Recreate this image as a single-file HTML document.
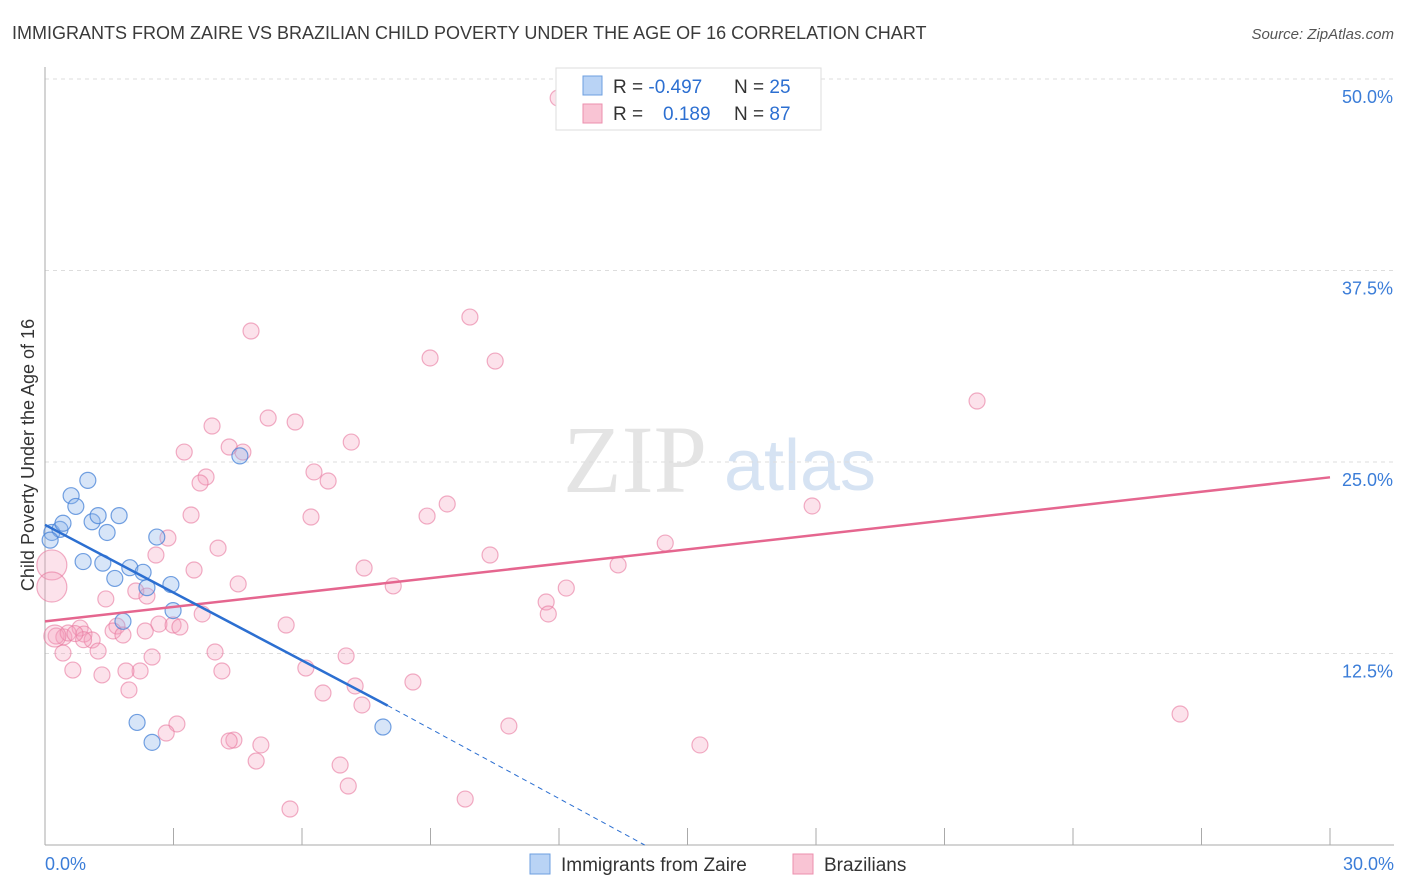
<!DOCTYPE html>
<html><head><meta charset="utf-8"><style>
body{margin:0;background:#fff;font-family:"Liberation Sans",sans-serif;}
svg{display:block}
</style></head><body>
<svg id="chart" width="1406" height="892" xmlns="http://www.w3.org/2000/svg">
<text x="12" y="39" font-size="18" fill="#3a3a3a">IMMIGRANTS FROM ZAIRE VS BRAZILIAN CHILD POVERTY UNDER THE AGE OF 16 CORRELATION CHART</text>
<text x="1394" y="39" font-size="15" fill="#555" font-style="italic" text-anchor="end">Source: ZipAtlas.com</text>
<text x="635" y="492" font-size="96" fill="#e4e4e4" font-family="Liberation Serif,serif" text-anchor="middle">ZIP</text>
<text x="800" y="490" font-size="72" fill="#d6e3f3" text-anchor="middle">atlas</text>
<text transform="translate(34,455) rotate(-90)" font-size="18" fill="#333" text-anchor="middle">Child Poverty Under the Age of 16</text>
<g id="grid"></g><g id="marks"></g><g id="lines"></g>
<g>
<rect x="556" y="68" width="265" height="62" fill="#fff" stroke="#ddd"/>
<rect x="583" y="76" width="19" height="19" fill="#b9d3f5" stroke="#6d9fe0"/>
<rect x="583" y="104" width="19" height="19" fill="#f9c4d4" stroke="#ec8fae"/>
<text x="613" y="93" font-size="19" fill="#333">R = <tspan fill="#2c6fd1">-0.497</tspan><tspan x="734">N = </tspan><tspan fill="#2c6fd1">25</tspan></text>
<text x="613" y="120" font-size="19" fill="#333">R = <tspan x="663" fill="#2c6fd1">0.189</tspan><tspan x="734">N = </tspan><tspan fill="#2c6fd1">87</tspan></text>
</g>
<g>
<rect x="530" y="854" width="20" height="20" fill="#b9d3f5" stroke="#6d9fe0"/>
<text x="561" y="871" font-size="19" fill="#333">Immigrants from Zaire</text>
<rect x="793" y="854" width="20" height="20" fill="#f9c4d4" stroke="#ec8fae"/>
<text x="824" y="871" font-size="19" fill="#333">Brazilians</text>
</g>
</svg>
<script>
const yTicks=[12.5,25,37.5,50];
const xTickLabels=["0.0%","30.0%"];
const zaireX=[0.16,0.35,0.42,0.61,0.72,1.00,1.10,1.24,1.73,1.45,0.89,1.35,1.63,1.98,2.29,2.38,2.61,2.94,2.99,1.82,2.15,2.50,4.55,7.89,0.12];
const zaireY=[20.4,20.6,21.0,22.8,22.1,23.8,21.1,21.5,21.5,20.4,18.5,18.4,17.4,18.1,17.8,16.8,20.1,17.0,15.3,14.6,8.0,6.7,25.4,7.7,19.9];
const brX=[11.98,4.81,9.92,8.99,10.51,21.76,3.90,5.21,5.84,3.25,4.30,4.62,7.15,6.28,6.61,3.76,3.62,9.39,8.92,17.91,3.41,6.21,2.87,2.59,4.04,10.39,14.48,13.38,7.45,3.48,4.51,8.13,12.17,11.70,11.75,1.42,2.12,2.38,3.67,2.66,2.99,3.15,5.63,2.34,1.68,1.59,1.82,0.82,0.91,1.10,0.44,0.26,0.54,1.24,0.42,2.50,3.97,7.03,6.09,4.13,2.22,1.89,0.65,1.33,1.96,7.24,8.59,6.49,7.40,10.83,3.08,2.83,4.41,4.30,5.04,15.29,26.50,4.93,6.89,7.08,5.72,9.81,0.16,0.16,0.23,0.90,0.70];
const brY=[48.76,33.55,34.46,31.79,31.59,28.98,27.35,27.87,27.61,25.65,25.98,25.65,26.30,24.35,23.76,24.02,23.63,22.26,21.47,22.13,21.54,21.41,20.04,18.93,19.38,18.93,19.71,18.28,18.08,17.95,17.04,16.91,16.77,15.86,15.08,16.06,16.58,16.25,15.08,14.42,14.36,14.23,14.36,13.97,14.29,13.97,13.71,14.16,13.77,13.38,13.58,13.64,13.84,12.66,12.53,12.27,12.60,12.34,11.55,11.36,11.36,11.36,11.42,11.10,10.12,10.38,10.64,9.92,9.14,7.77,7.90,7.31,6.85,6.79,6.53,6.53,8.55,5.48,5.22,3.85,2.35,3.00,18.28,16.84,13.64,13.40,13.80];
const brBig=[82,83];
const brMid=[84];
const zaireTrend=[[0,20.9],[8.0,9.1]];
const zaireDash=[[8.0,9.1],[14.0,0]];
const brTrend=[[0,14.6],[30,24.0]];
const X=v=>45+v/30*1285, Y=v=>845-v/50*766;
const NS="http://www.w3.org/2000/svg";
function mk(t,a,p){const e=document.createElementNS(NS,t);for(const k in a)e.setAttribute(k,a[k]);p.appendChild(e);return e;}
const grid=document.getElementById('grid'),marks=document.getElementById('marks'),lines=document.getElementById('lines');
yTicks.forEach(t=>{
 const l=mk('line',{x1:45,x2:1394,y1:Y(t),y2:Y(t),stroke:'#ddd','stroke-dasharray':'4,4'},grid);
 
 
 const tx=mk('text',{x:1393,y:Y(t)+24,'font-size':18,fill:'#3b7dd8','text-anchor':'end'},grid);
 tx.textContent=t.toFixed(1)+'%';
 
 
});
const ax=mk('line',{x1:45,x2:45,y1:67,y2:845,stroke:'#aaa'},grid);


const bx=mk('line',{x1:45,x2:1394,y1:845,y2:845,stroke:'#aaa'},grid);


for(let i=1;i<=10;i++){const tk=mk('line',{x1:X(i*3),x2:X(i*3),y1:828,y2:845,stroke:'#aaa'},grid);
 
 }
[[0,'start',45],[30,'end',1394]].forEach((d,i)=>{const t=mk('text',{x:d[2],y:870,'font-size':18,fill:'#3b7dd8','text-anchor':d[1]},grid);t.textContent=xTickLabels[i];
 
 });
brX.forEach((v,i)=>{const r=brBig.includes(i)?15:(brMid.includes(i)?11:8);
 const c=mk('circle',{cx:X(v),cy:Y(brY[i]),r:r,fill:'rgba(245,160,188,0.3)',stroke:'rgba(232,120,158,0.6)','stroke-width':1.2},marks);
 
 });
zaireX.forEach((v,i)=>{const c=mk('circle',{cx:X(v),cy:Y(zaireY[i]),r:8,fill:'rgba(140,180,235,0.35)',stroke:'rgba(70,130,215,0.75)','stroke-width':1.2},marks);
 
 });
const l1=mk('line',{x1:X(brTrend[0][0]),y1:Y(brTrend[0][1]),x2:X(brTrend[1][0]),y2:Y(brTrend[1][1]),stroke:'#e5668f','stroke-width':2.5},lines);


const l2=mk('line',{x1:X(zaireTrend[0][0]),y1:Y(zaireTrend[0][1]),x2:X(zaireTrend[1][0]),y2:Y(zaireTrend[1][1]),stroke:'#2c6fd1','stroke-width':2.5},lines);


const l3=mk('line',{x1:X(zaireDash[0][0]),y1:Y(zaireDash[0][1]),x2:X(zaireDash[1][0]),y2:Y(zaireDash[1][1]),stroke:'#2c6fd1','stroke-width':1,'stroke-dasharray':'5,4'},lines);


</script>
</body></html>
